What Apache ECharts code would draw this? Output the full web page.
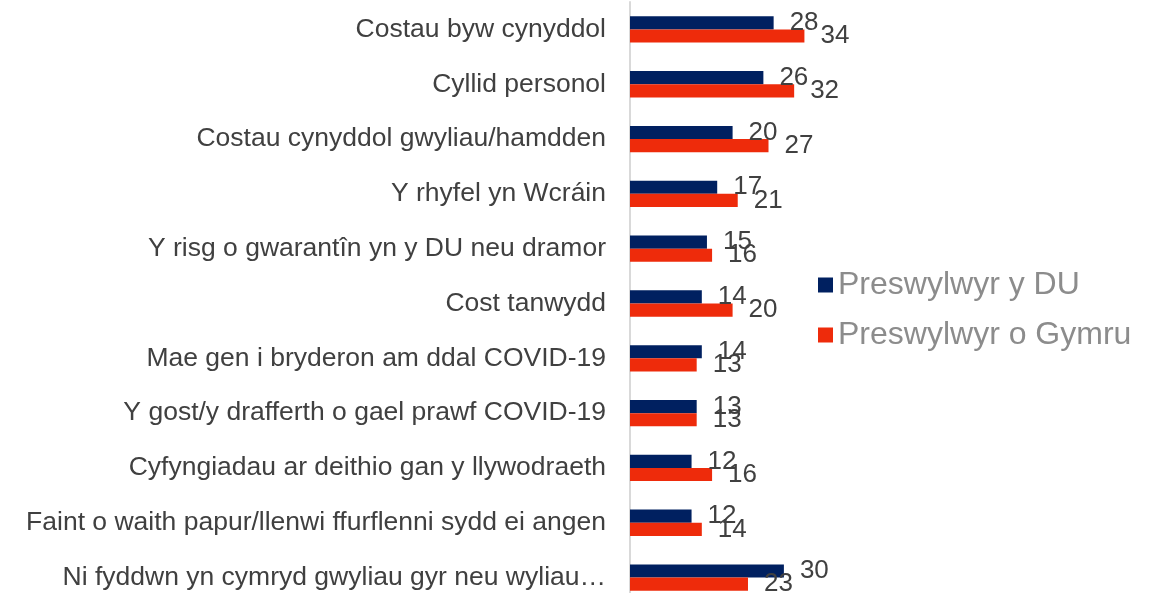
<!DOCTYPE html>
<html>
<head>
<meta charset="utf-8">
<script src="https://cdn.jsdelivr.net/npm/echarts@6/dist/echarts.min.js"></script>
<style>
  html, body { margin: 0; padding: 0; background: #fff; }
  #chart { width: 1153px; height: 593px; }
</style>
</head>
<body>
<div id="chart"></div>
<script>
var categories = [
  'Costau byw cynyddol',
  'Cyllid personol',
  'Costau cynyddol gwyliau/hamdden',
  'Y rhyfel yn Wcráin',
  'Y risg o gwarantîn yn y DU neu dramor',
  'Cost tanwydd',
  'Mae gen i bryderon am ddal COVID-19',
  'Y gost/y drafferth o gael prawf COVID-19',
  'Cyfyngiadau ar deithio gan y llywodraeth',
  'Faint o waith papur/llenwi ffurflenni sydd ei angen',
  'Ni fyddwn yn cymryd gwyliau gyr neu wyliau…'
];
var ukValues = [28, 26, 20, 17, 15, 14, 14, 13, 12, 12, 30];
var walesValues = [34, 32, 27, 21, 16, 20, 13, 13, 16, 14, 23];
var seriesNames = ['Preswylwyr y DU', 'Preswylwyr o Gymru'];

var chart = echarts.init(document.getElementById('chart'));

var labelStyle = {
  show: true,
  position: 'right',
  distance: 16,
  color: '#404040',
  fontSize: 26,
  fontFamily: 'Liberation Sans'
};

var option = {
  animation: false,
  color: ['#002060', '#EE2B0B'],
  textStyle: { fontFamily: 'Liberation Sans' },
  grid: {
    left: 630,
    top: 2,
    width: 513,
    height: 603,
    containLabel: false,
    outerBoundsMode: 'none'
  },
  legend: {
    orient: 'vertical',
    left: 813,
    top: 264,
    itemWidth: 15,
    itemHeight: 15,
    itemGap: 18,
    icon: 'rect',
    textStyle: { color: '#8C8C8C', fontSize: 32, fontFamily: 'Liberation Sans' },
    data: seriesNames
  },
  xAxis: {
    type: 'value',
    min: 0,
    max: 100,
    show: false
  },
  yAxis: {
    type: 'category',
    inverse: true,
    data: categories,
    axisLine: { show: true, lineStyle: { color: '#D9D9D9', width: 2 } },
    axisTick: { show: false },
    axisLabel: {
      color: '#404040',
      fontSize: 26.5,
      margin: 24,
      fontFamily: 'Liberation Sans'
    }
  },
  series: [{
    name: seriesNames[0],
    type: 'bar',
    data: ukValues,
    barCategoryGap: '52%',
    barGap: '0%',
    label: labelStyle
  }, {
    name: seriesNames[1],
    type: 'bar',
    data: walesValues,
    barCategoryGap: '52%',
    barGap: '0%',
    label: labelStyle
  }]
};

chart.setOption(option);
</script>
</body>
</html>
